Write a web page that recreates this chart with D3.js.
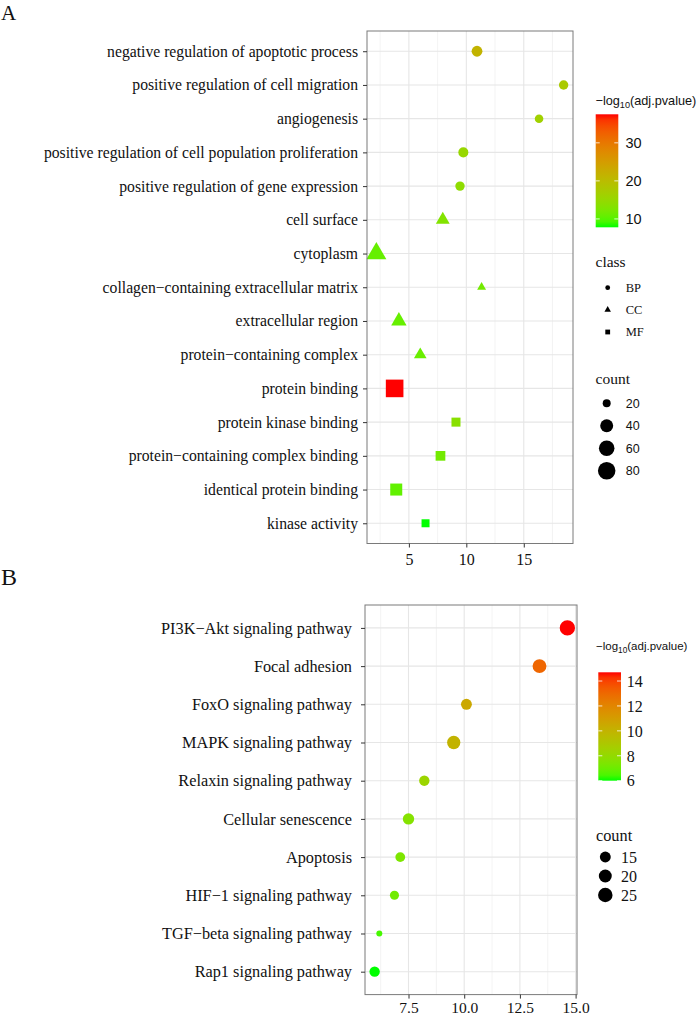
<!DOCTYPE html>
<html><head><meta charset="utf-8">
<script src="https://cdn.jsdelivr.net/npm/d3@7"></script>
<style>body{margin:0;background:#fff}svg{display:block}</style>
</head><body>
<svg id="c" width="700" height="1015"></svg>
<script>
// ---------- Panel A (GO) data ----------
const goTerms = ["negative regulation of apoptotic process","positive regulation of cell migration","angiogenesis","positive regulation of cell population proliferation","positive regulation of gene expression","cell surface","cytoplasm","collagen\u2212containing extracellular matrix","extracellular region","protein\u2212containing complex","protein binding","protein kinase binding","protein\u2212containing complex binding","identical protein binding","kinase activity"];
const goClass = ["BP","BP","BP","BP","BP","CC","CC","CC","CC","CC","MF","MF","MF","MF","MF"];
const goX = [10.93,18.47,16.33,9.74,9.45,7.95,2.17,11.33,4.13,5.99,3.76,9.10,7.75,3.90,6.45];
const goCount = [28,23,21,25,23,26,54,19,31,23,81,22,24,34,20];
const goP = [21.5,17.6,16.4,15.2,14.3,13.1,10.8,11.7,10.8,11.0,37.5,13.7,11.7,10.5,7.8];
const goXTicks = [5,10,15];
const goColorTicks = [10,20,30];
const goCountBreaks = [20,40,60,80];
const classNames = ["BP","CC","MF"];

// ---------- Panel B (KEGG) data ----------
const keggTerms = ["PI3K\u2212Akt signaling pathway","Focal adhesion","FoxO signaling pathway","MAPK signaling pathway","Relaxin signaling pathway","Cellular senescence","Apoptosis","HIF\u22121 signaling pathway","TGF\u2212beta signaling pathway","Rap1 signaling pathway"];
const keggX = [14.63,13.38,10.10,9.53,8.21,7.50,7.13,6.87,6.19,5.98];
const keggCount = [28,23,15,21,14,16,13,12,10,14];
const keggP = [14.7,13.1,10.5,10.0,8.3,7.6,7.4,7.1,6.4,6.0];
const keggXTicks = [7.5,10,12.5,15];
const keggColorTicks = [6,8,10,12,14];
const keggCountBreaks = [15,20,25];

const SERIF = "'Liberation Serif','Times New Roman',serif";
const SANS = "'Liberation Sans',Arial,sans-serif";
const svg = d3.select("#c");
const defs = svg.append("defs");

function shapePath(cls, R) {
  if (cls === "CC") {
    const r = 1.555 * R, yc = 0.778 * R, xc = 1.347 * R;
    return `M0,${-r}L${xc},${yc}L${-xc},${yc}Z`;
  }
  if (cls === "MF") {
    return `M${-R},${-R}H${R}V${R}H${-R}Z`;
  }
  return `M${R},0A${R},${R} 0 1,1 ${-R},0A${R},${R} 0 1,1 ${R},0Z`;
}

function makeSize(counts, rmin, rmax) {
  const [cmin, cmax] = d3.extent(counts);
  const s = d3.scaleSqrt().domain([0, cmax - cmin]).range([rmin, rmax]);
  return c => s(Math.max(0, c - cmin));
}

function makeColor(ps) {
  return d3.scaleLinear().domain(d3.extent(ps)).range(["#00ff00", "#ff0000"]).interpolate(d3.interpolateLab);
}

function drawPanel(o) {
  const g = svg.append("g");
  const [mn, mx] = d3.extent(o.xs);
  const pad = (mx - mn) * 0.05;
  const x = d3.scaleLinear().domain([mn - pad, mx + pad]).range([o.x0, o.x1]);
  const y = d3.scalePoint().domain(o.terms).range([o.y0, o.y1]).padding(0.6);
  const step = o.xTicks[1] - o.xTicks[0];
  const minors = [o.xTicks[0] - step / 2].concat(o.xTicks.map(t => t + step / 2))
    .filter(v => v > x.domain()[0] && v < x.domain()[1]);
  g.selectAll(".minor").data(minors).join("line")
    .attr("x1", d => x(d)).attr("x2", d => x(d)).attr("y1", o.y0).attr("y2", o.y1)
    .attr("stroke", "#f0f0f0").attr("stroke-width", 0.8);
  g.selectAll(".majx").data(o.xTicks.filter(v => v <= x.domain()[1])).join("line")
    .attr("x1", d => x(d)).attr("x2", d => x(d)).attr("y1", o.y0).attr("y2", o.y1)
    .attr("stroke", "#e6e6e6").attr("stroke-width", 1.1);
  g.selectAll(".majy").data(o.terms).join("line")
    .attr("x1", o.x0).attr("x2", o.x1).attr("y1", d => y(d)).attr("y2", d => y(d))
    .attr("stroke", "#e6e6e6").attr("stroke-width", 1.1);
  g.selectAll(".pt").data(o.terms).join("path")
    .attr("transform", (d, i) => `translate(${x(o.xs[i])},${y(d)})`)
    .attr("d", (d, i) => shapePath(o.cls ? o.cls[i] : "BP", o.size(o.counts[i])))
    .attr("fill", (d, i) => o.color(o.ps[i]));
  g.append("rect").attr("x", o.x0).attr("y", o.y0).attr("width", o.x1 - o.x0).attr("height", o.y1 - o.y0)
    .attr("fill", "none").attr("stroke", "#7a7a7a").attr("stroke-width", 1);
  const ya = d3.axisLeft(y).tickSize(4).tickPadding(o.labelPad);
  const yg = g.append("g").attr("transform", `translate(${o.x0},0)`).call(ya);
  yg.select(".domain").remove();
  yg.selectAll("line").attr("stroke", "#333");
  yg.selectAll("text").attr("font-family", SERIF).attr("font-size", o.labelSize).attr("fill", "#111");
  const xa = d3.axisBottom(x).tickValues(o.xTicks.filter(v => v <= x.domain()[1] + 0.05)).tickSize(4).tickPadding(o.xPad).tickFormat(o.fmt);
  const xg = g.append("g").attr("transform", `translate(0,${o.y1})`).call(xa);
  xg.select(".domain").remove();
  xg.selectAll("line").attr("stroke", "#333");
  xg.selectAll("text").attr("font-family", SERIF).attr("font-size", o.xfs).attr("fill", "#111");
}

function colorbar(o) {
  const id = o.id;
  const grad = defs.append("linearGradient").attr("id", id).attr("x1", 0).attr("x2", 0).attr("y1", 1).attr("y2", 0);
  const dom = o.color.domain();
  d3.range(0, 1.0001, 0.05).forEach(t => {
    grad.append("stop").attr("offset", t).attr("stop-color", o.color(dom[0] + t * (dom[1] - dom[0])));
  });
  const s = d3.scaleLinear().domain(dom).range([o.y1, o.y0]);
  svg.append("rect").attr("x", o.x).attr("y", o.y0).attr("width", o.w).attr("height", o.y1 - o.y0).attr("fill", `url(#${id})`);
  const tk = svg.append("g");
  o.ticks.forEach(t => {
    tk.append("line").attr("x1", o.x).attr("x2", o.x + 4).attr("y1", s(t)).attr("y2", s(t)).attr("stroke", "#fff").attr("stroke-width", 0.8);
    tk.append("line").attr("x1", o.x + o.w - 4).attr("x2", o.x + o.w).attr("y1", s(t)).attr("y2", s(t)).attr("stroke", "#fff").attr("stroke-width", 0.8);
    tk.append("text").attr("x", o.lx).attr("y", s(t)).attr("dy", "0.36em").attr("font-family", o.font).attr("font-size", o.fs).attr("fill", "#111").text(t);
  });
  const tt = svg.append("text").attr("x", o.tx).attr("y", o.ty).attr("font-family", SANS).attr("font-size", o.tfs).attr("fill", "#111");
  tt.append("tspan").text("\u2212log");
  tt.append("tspan").attr("font-size", o.tfs * 0.72).attr("dy", o.tfs * 0.28).text("10");
  tt.append("tspan").attr("dy", -o.tfs * 0.28).text("(adj.pvalue)");
}

// ---------- Panel A ----------
const sizeA = makeSize(goCount, 3.3, 8.8);
const colorA = makeColor(goP);
drawPanel({terms: goTerms, xs: goX, counts: goCount, ps: goP, cls: goClass, xTicks: goXTicks,
  x0: 367, x1: 573, y0: 31, y1: 543.5, labelSize: 15.7, labelPad: 5, xPad: 6, xfs: 16, fmt: d3.format("d"),
  size: sizeA, color: colorA});
svg.append("text").attr("x", 1).attr("y", 19.5).attr("font-family", SERIF).attr("font-size", 21).attr("fill", "#111").text("A");
colorbar({id: "gA", color: colorA, ticks: goColorTicks, x: 595.7, w: 22.6, y0: 114.3, y1: 227.3,
  lx: 625.5, font: SANS, fs: 14.5, tx: 595.5, ty: 104.5, tfs: 12.7});
svg.append("text").attr("x", 595.5).attr("y", 266.5).attr("font-family", SERIF).attr("font-size", 15.5).attr("fill", "#111").text("class");
const clsY = d3.scalePoint().domain(classNames).range([287.7, 332]);
classNames.forEach(c => {
  svg.append("path").attr("transform", `translate(607.7,${clsY(c)})`).attr("d", shapePath(c, 2.4)).attr("fill", "#000");
  svg.append("text").attr("x", 625.7).attr("y", clsY(c)).attr("dy", "0.35em").attr("font-family", SERIF).attr("font-size", 12.5).attr("fill", "#111").text(c);
});
svg.append("text").attr("x", 595.5).attr("y", 383.5).attr("font-family", SERIF).attr("font-size", 15.5).attr("fill", "#111").text("count");
const cntYA = d3.scalePoint().domain(goCountBreaks).range([403.3, 470.7]);
goCountBreaks.forEach(c => {
  svg.append("circle").attr("cx", 606.7).attr("cy", cntYA(c)).attr("r", sizeA(c)).attr("fill", "#000");
  svg.append("text").attr("x", 625.7).attr("y", cntYA(c)).attr("dy", "0.36em").attr("font-family", SANS).attr("font-size", 12.5).attr("fill", "#111").text(c);
});

// ---------- Panel B ----------
const sizeB = makeSize(keggCount, 3.0, 7.65);
const colorB = makeColor(keggP);
drawPanel({terms: keggTerms, xs: keggX, counts: keggCount, ps: keggP, cls: null, xTicks: keggXTicks,
  x0: 365, x1: 577, y0: 605, y1: 994.6, labelSize: 16.3, labelPad: 9, xPad: 3, xfs: 15.5, fmt: d3.format(".1f"),
  size: sizeB, color: colorB});
svg.append("text").attr("x", 1).attr("y", 585).attr("font-family", SERIF).attr("font-size", 24).attr("fill", "#111").text("B");
colorbar({id: "gB", color: colorB, ticks: keggColorTicks, x: 598.3, w: 22.7, y0: 672.3, y1: 780.7,
  lx: 626.7, font: SERIF, fs: 16, tx: 596, ty: 650, tfs: 11.5});
svg.append("text").attr("x", 596).attr("y", 841).attr("font-family", SERIF).attr("font-size", 16.3).attr("fill", "#111").text("count");
const cntYB = d3.scalePoint().domain(keggCountBreaks).range([857, 895]);
keggCountBreaks.forEach(c => {
  svg.append("circle").attr("cx", 605.3).attr("cy", cntYB(c)).attr("r", sizeB(c)).attr("fill", "#000");
  svg.append("text").attr("x", 621).attr("y", cntYB(c)).attr("dy", "0.36em").attr("font-family", SERIF).attr("font-size", 16).attr("fill", "#111").text(c);
});
</script>
</body></html>
